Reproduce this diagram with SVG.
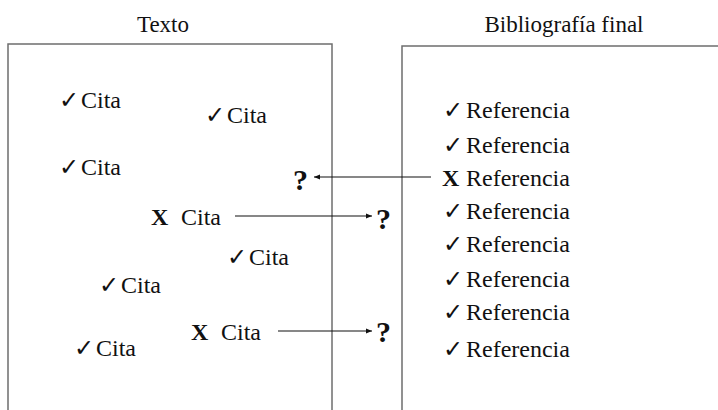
<svg xmlns="http://www.w3.org/2000/svg" width="718" height="410" viewBox="0 0 718 410">
<style>
text{font-family:"Liberation Serif","Times New Roman",serif;font-size:24px;fill:#111}
.ck{font-family:"DejaVu Sans",sans-serif;font-size:24px}
.b{font-weight:bold}
.q{font-weight:bold;font-size:30px}
.box{fill:none;stroke:#6e6e6e;stroke-width:1.5}
.con{stroke:#111;stroke-width:1.2;fill:none;marker-end:url(#ah)}
</style>
<defs>
<marker id="ah" viewBox="0 0 10 10" refX="10" refY="5" markerWidth="6" markerHeight="6" markerUnits="userSpaceOnUse" orient="auto">
<path d="M0,1 L10,5 L0,9 z" fill="#111"/>
</marker>
</defs>
<g id="texto">
<rect class="box" x="8" y="44" width="324" height="380"/>
<text x="163" y="32" text-anchor="middle" style="font-size:23px">Texto</text>
</g>
<g id="bibliografia">
<rect class="box" x="402" y="46" width="330" height="380"/>
<text x="564" y="32" text-anchor="middle" style="font-size:23px">Bibliografía final</text>
</g>
<g id="citas">
<g id="cita1"><text class="ck" x="59" y="108">✓</text><text x="81" y="108">Cita</text></g>
<g id="cita2"><text class="ck" x="205" y="123">✓</text><text x="227" y="123">Cita</text></g>
<g id="cita3"><text class="ck" x="59" y="175">✓</text><text x="81" y="175">Cita</text></g>
<g id="cita4"><text class="b" x="151" y="225">X</text><text x="181" y="225">Cita</text></g>
<g id="cita5"><text class="ck" x="227" y="265">✓</text><text x="249" y="265">Cita</text></g>
<g id="cita6"><text class="ck" x="99" y="293">✓</text><text x="121" y="293">Cita</text></g>
<g id="cita7"><text class="b" x="191" y="340">X</text><text x="221" y="340">Cita</text></g>
<g id="cita8"><text class="ck" x="74" y="356">✓</text><text x="96" y="356">Cita</text></g>
</g>
<g id="referencias">
<g id="ref1"><text class="ck" x="443" y="118">✓</text><text x="466" y="118">Referencia</text></g>
<g id="ref2"><text class="ck" x="443" y="153">✓</text><text x="466" y="153">Referencia</text></g>
<g id="ref3"><text class="b" x="442" y="186">X</text><text x="466" y="186">Referencia</text></g>
<g id="ref4"><text class="ck" x="443" y="219">✓</text><text x="466" y="219">Referencia</text></g>
<g id="ref5"><text class="ck" x="443" y="252">✓</text><text x="466" y="252">Referencia</text></g>
<g id="ref6"><text class="ck" x="443" y="287">✓</text><text x="466" y="287">Referencia</text></g>
<g id="ref7"><text class="ck" x="443" y="320">✓</text><text x="466" y="320">Referencia</text></g>
<g id="ref8"><text class="ck" x="443" y="357">✓</text><text x="466" y="357">Referencia</text></g>
</g>
<g id="q1"><text class="q" x="293" y="190">?</text></g>
<g id="q2"><text class="q" x="376" y="229">?</text></g>
<g id="q3"><text class="q" x="376" y="342">?</text></g>
<g id="connectors">
<line class="con" x1="431" y1="177" x2="314" y2="177"/>
<line class="con" x1="235" y1="216" x2="372" y2="216"/>
<line class="con" x1="278" y1="331" x2="372" y2="331"/>
</g>
</svg>
